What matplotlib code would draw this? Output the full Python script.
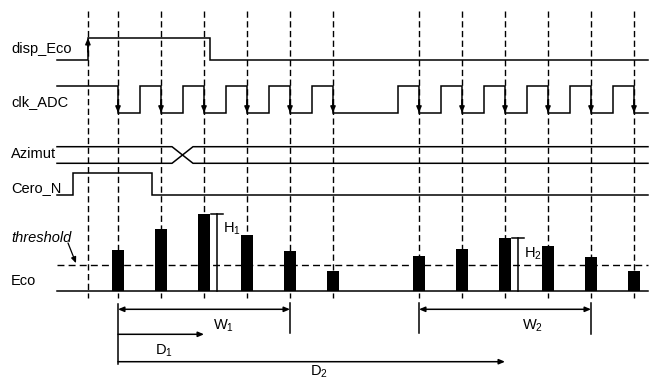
import matplotlib
matplotlib.use("Agg")
import matplotlib.pyplot as plt

plt.rcParams["font.family"] = ["Liberation Sans", "DejaVu Sans"]
plt.rcParams["mathtext.fontset"] = "custom"
plt.rcParams["mathtext.rm"] = "Liberation Sans"
plt.rcParams["mathtext.it"] = "Liberation Sans:italic"

# time is in clock periods, t=0 is the first sampling edge
clk_fall = [0, 1, 2, 3, 4, 5, 7, 8, 9, 10, 11, 12]
clk_rise = [0.5, 1.5, 2.5, 3.5, 4.5, 6.5, 7.5, 8.5, 9.5, 10.5, 11.5]
disp_eco_edges = [-0.7, 2.14]      # rise, fall
cero_n_edges = [-1.05, 0.78]       # rise, fall
azimut_change = 1.5
guide_times = [-0.7] + clk_fall

# echo samples (amplitude in arbitrary units)
echo_t1 = [0, 1, 2, 3, 4, 5]
echo_a1 = [41, 62, 77, 56, 40, 20]
echo_t2 = [7, 8, 9, 10, 11, 12]
echo_a2 = [35, 42, 53, 45, 34, 20]
threshold = 26

labels = ["disp_Eco", "clk_ADC", "Azimut", "Cero_N"]

# layout (figure is 653x381 px, x converted to clock periods)
PX0, PER = 118.0, 43.0
FS = 10.5


def tx(px):
    return (px - PX0) / PER


T_START, T_END = tx(57), tx(648)
LW = 1.1
HEAD = "head_length=0.35,head_width=0.15"

fig = plt.figure(figsize=(6.53, 3.81), dpi=100)
ax = fig.add_axes([0, 0, 1, 1])
ax.set_xlim(tx(0), tx(653))
ax.set_ylim(381, 0)
ax.axis("off")


def wave(edges, start_high, hi, lo):
    xs, ys = [T_START], [hi if start_high else lo]
    level = start_high
    for t in edges:
        y0 = hi if level else lo
        level = not level
        y1 = hi if level else lo
        xs += [t, t]
        ys += [y0, y1]
    xs.append(T_END)
    ys.append(hi if level else lo)
    ax.plot(xs, ys, color="black", lw=LW, solid_joinstyle="miter")


def head(t, y_from, y_to):
    ax.annotate("", xy=(t, y_to), xytext=(t, y_from),
                arrowprops=dict(arrowstyle="-|>," + HEAD,
                                color="black", lw=LW, shrinkA=0, shrinkB=0,
                                mutation_scale=10))


# vertical guide lines
for t in guide_times:
    ax.plot([t, t], [11, 298], color="black", lw=1.0, dashes=(4.5, 2.5))

# disp_Eco
wave(disp_eco_edges, False, 38, 60)
head(disp_eco_edges[0], 52, 38)

# clk_ADC
clk_edges = sorted(clk_fall + clk_rise)
wave(clk_edges, True, 85.7, 112.7)
for t in clk_fall:
    head(t, 100, 112.7)

# Azimut bus
a0, a1 = azimut_change - 0.244, azimut_change + 0.244
for ya, yb in [(146.7, 163.3), (163.3, 146.7)]:
    ax.plot([T_START, a0, a1, T_END], [ya, ya, yb, yb], color="black", lw=LW)

# Cero_N
wave(cero_n_edges, False, 173.3, 195)

# Eco
ECO = 290.7
ax.plot([T_START, T_END], [ECO, ECO], color="black", lw=LW)
ax.plot([T_START, T_END], [ECO - threshold] * 2, color="black", lw=1.0, dashes=(5, 3))
ax.bar(echo_t1 + echo_t2, [-a for a in echo_a1 + echo_a2], bottom=ECO,
       width=0.27, color="black", zorder=3)

# signal names
name_y = [53, 106, 158, 192]
for lab, y in zip(labels, name_y):
    ax.text(tx(11), y, lab, fontsize=FS, va="baseline", ha="left")
ax.text(tx(11), 242.5, "threshold", fontsize=FS, style="italic", va="baseline")
ax.text(tx(11), 285, "Eco", fontsize=FS, va="baseline")
ax.annotate("", xy=(tx(76), ECO - threshold - 1.5), xytext=(tx(68), 243),
            arrowprops=dict(arrowstyle="-|>," + HEAD,
                            color="black", lw=0.9, shrinkA=0, shrinkB=0,
                            mutation_scale=10))


# peak heights
def peak_mark(ts, amps, name, lab_dx, lab_y):
    i = amps.index(max(amps))
    t = ts[i] + 0.31
    top = ECO - amps[i]
    ax.plot([t, t], [top, ECO], color="black", lw=LW)
    ax.plot([t - 0.14, t + 0.14], [top, top], color="black", lw=LW)
    ax.text(t + lab_dx, lab_y, name, fontsize=FS, va="baseline")
    return ts[i]


pk1 = peak_mark(echo_t1, echo_a1, r"$\mathrm{H}_1$", 0.13, 233)
pk2 = peak_mark(echo_t2, echo_a2, r"$\mathrm{H}_2$", 0.14, 258)


def span(ts, amps):
    above = [t for t, a in zip(ts, amps) if a > threshold]
    return above[0], above[-1]


def dim(x0, x1, y, style):
    ax.annotate("", xy=(x1, y), xytext=(x0, y),
                arrowprops=dict(arrowstyle=style + "," + HEAD,
                                color="black", lw=LW, shrinkA=0, shrinkB=0,
                                mutation_scale=10))


# widths
w1 = span(echo_t1, echo_a1)
w2 = span(echo_t2, echo_a2)
ax.plot([w1[0]] * 2, [304, 364], color="black", lw=LW)
ax.plot([w1[1]] * 2, [303, 333], color="black", lw=LW)
ax.plot([w2[0]] * 2, [303, 333], color="black", lw=LW)
ax.plot([w2[1]] * 2, [303, 334], color="black", lw=LW)
dim(w1[0], w1[1], 309.3, "<|-|>")
dim(w2[0], w2[1], 309.3, "<|-|>")
ax.text(tx(213), 330, r"$\mathrm{W}_1$", fontsize=FS, va="baseline")
ax.text(tx(522), 330, r"$\mathrm{W}_2$", fontsize=FS, va="baseline")

# distances to the peaks
dim(w1[0], pk1, 334.3, "-|>")
dim(w1[0], pk2, 361.7, "-|>")
ax.text(tx(155), 355, r"$\mathrm{D}_1$", fontsize=FS, va="baseline")
ax.text(tx(310), 376, r"$\mathrm{D}_2$", fontsize=FS, va="baseline")

fig.savefig("out.png", dpi=100)
